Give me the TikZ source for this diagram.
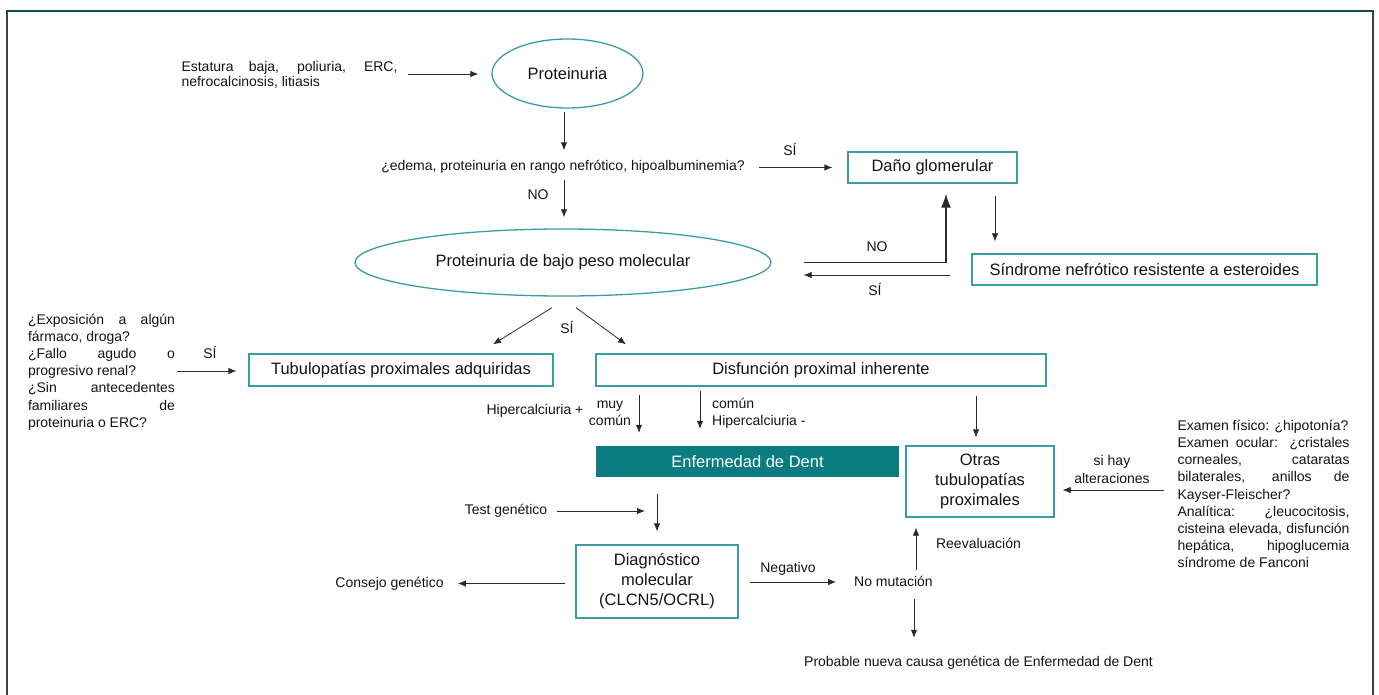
\documentclass[tikz,border=0pt]{standalone}
\usepackage{fontspec}
\setmainfont{Liberation Sans}
\usetikzlibrary{shapes.geometric,arrows.meta,calc}
\definecolor{tealline}{HTML}{3A9DA3}
\definecolor{tealfill}{HTML}{0B7C80}
\definecolor{framet}{HTML}{0F4A50}
\definecolor{ink}{HTML}{2B2B2B}
\begin{document}
\begin{tikzpicture}[x=1pt,y=-1pt,
  arr/.style={draw=ink, line width=0.8pt, -{Latex[length=8pt,width=6.5pt]}},
  stext/.style={font=\fontsize{14}{17.2}\selectfont, inner sep=0pt, text=black!92},
  one/.style={text height=10pt, text depth=3pt},
  btext/.style={font=\fontsize{16.5}{20}\selectfont},
  tbox/.style={draw=tealline, line width=1.3pt, btext, inner sep=0pt, align=center, text=black!92},
  oval/.style={ellipse, draw=tealline, line width=1.3pt, btext, inner sep=0pt, text=black!92},
]
\useasboundingbox (0,0) rectangle (1379,695);
% frame
\draw[line width=2pt, color=black!75] (7,697) -- (7,11);
\draw[line width=2pt, color=black!75] (1373,697) -- (1373,11);
\draw[line width=2pt, color=framet] (6,11) -- (1374,11);

% nodes
\node[stext, font=\fontsize{14}{15.5}\selectfont, text width=216pt, align=justify] (est) at (289.5,75) {Estatura baja, poliuria, ERC,\linebreak nefrocalcinosis, litiasis};
\node[oval, minimum width=151pt, minimum height=69pt] (prot) at (567.5,73.5) {Proteinuria};
\node[stext, one] (q) at (563,167) {¿edema, proteinuria en rango nefrótico, hipoalbuminemia?};
\node[tbox, minimum width=169pt, minimum height=31pt] (dano) at (932.5,167.5) {Daño glomerular};
\node[oval, minimum width=416pt, minimum height=67pt] (pbpm) at (563,262.5) {Proteinuria de bajo peso molecular};
\node[tbox, minimum width=345pt, minimum height=31pt] (snre) at (1144.5,269.5) {Síndrome nefrótico resistente a esteroides};
\node[tbox, minimum width=304pt, minimum height=32pt] (tpa) at (401,370) {Tubulopatías proximales adquiridas};
\node[tbox, minimum width=450pt, minimum height=32pt] (dpi) at (821,370) {Disfunción proximal inherente};
\node[stext, text width=147pt, align=justify] (lq) at (101.5,372) {¿Exposición a algún\linebreak fármaco, droga?\par ¿Fallo agudo o\linebreak progresivo renal?\par ¿Sin antecedentes\linebreak familiares de\linebreak proteinuria o ERC?};
\node[btext, fill=tealfill, text=white, minimum width=303pt, minimum height=31pt, inner sep=0pt] (dent) at (747.5,461.5) {Enfermedad de Dent};
\node[tbox, minimum width=148pt, minimum height=71pt] (otras) at (980,481.5) {Otras\\tubulopatías\\proximales};
\node[stext, text width=172pt, align=justify] (rq) at (1263.5,494) {Examen físico: ¿hipotonía?\par Examen ocular: ¿cristales\linebreak corneales, cataratas\linebreak bilaterales, anillos de\linebreak Kayser-Fleischer?\par Analítica: ¿leucocitosis,\linebreak cisteina elevada, disfunción\linebreak hepática, hipoglucemia\linebreak síndrome de Fanconi};
\node[stext, one] (tg) at (506,511) {Test genético};
\node[tbox, minimum width=162pt, minimum height=73pt] (diag) at (657,581.5) {Diagnóstico\\molecular\\(CLCN5/OCRL)};
\node[stext, one] (cg) at (389.5,584) {Consejo genético};
\node[stext, one] (nm) at (893.5,583) {No mutación};
\node[stext, one] (prob) at (978.5,663) {Probable nueva causa genética de Enfermedad de Dent};

% labels
\node[stext, one] (l1) at (790,152) {SÍ};
\node[stext, one] (l2) at (538,196) {NO};
\node[stext, one] (l3) at (877,248) {NO};
\node[stext, one] (l4) at (875,292) {SÍ};
\node[stext, one] (l5) at (567,330) {SÍ};
\node[stext, one] (l6) at (210,355) {SÍ};
\node[stext, one] (l7) at (535,411) {Hipercalciuria +};
\node[stext, align=center] (l8) at (610,413) {muy\\común};
\node[stext, align=left, anchor=west] (l9) at (712,413) {común\\Hipercalciuria -};
\node[stext, align=center] (l10) at (1112,469.5) {si hay\\alteraciones};
\node[stext, one] (l11) at (788,569) {Negativo};
\node[stext, one] (l12) at (978.5,545) {Reevaluación};

% connectors
\draw[arr] ($(est.east |- prot.west)+(10.5,0.5)$) -- ($(prot.west)+(-13,0.5)$);
\draw[arr] ($(q.north |- prot.south)+(1,3)$) -- ($(q.north)+(1,-10)$);
\draw[arr] ($(dano.west)+(-88,0)$) -- ($(dano.west)+(-15,0)$);
\draw[arr] ($(q.south)+(1,6.5)$) -- ($(q.south |- pbpm.north)+(1,-11)$);
\draw[arr] ($(dano.south)+(62.5,12)$) -- ($(dano.south |- snre.north)+(62.5,-12)$);
\draw[draw=ink, line width=1.6pt, -{Latex[length=14pt,width=10pt]}] ($(pbpm.east)+(32,0)$) -| ($(dano.south)+(13.5,10)$);
\draw[arr] ($(snre.west)+(-21,5.5)$) -- ($(pbpm.east)+(32,12.5)$);
\draw[arr] ($(pbpm.south)+(-11,11)$) -- ($(tpa.north)+(92,-9)$);
\draw[arr] ($(pbpm.south)+(13,11)$) -- ($(dpi.north)+(-195,-9)$);
\draw[arr] ($(tpa.west)+(-71,1)$) -- ($(tpa.west)+(-12,1)$);
\draw[arr] ($(dpi.south)+(-182,8)$) -- ($(dent.north)+(-108.5,-13)$);
\draw[arr] ($(dpi.south)+(-121,4)$) -- ($(dent.north)+(-47.5,-17)$);
\draw[arr] ($(dpi.south)+(155,9)$) -- ($(otras.north)+(-4,-8)$);
\draw[arr] ($(otras.east)+(109,8.5)$) -- ($(otras.east)+(8,8.5)$);
\draw[arr] ($(tg.east)+(10,0)$) -- ($(tg.east -| diag.north)+(-12,0)$);
\draw[arr] ($(dent.south -| diag.north)+(0,17)$) -- ($(diag.north)+(0,-13)$);
\draw[arr] ($(diag.west)+(-10,2)$) -- ($(cg.east |- diag.west)+(14,2)$);
\draw[arr] ($(diag.east)+(11,0.5)$) -- ($(nm.west |- diag.east)+(-18,0.5)$);
\draw[arr] ($(nm.north)+(22.5,-6.5)$) -- ($(nm.north |- otras.south)+(22.5,10)$);
\draw[arr] ($(nm.south)+(20.5,9.5)$) -- ($(nm.south |- prob.north)+(20.5,-18.5)$);
\end{tikzpicture}
\end{document}
